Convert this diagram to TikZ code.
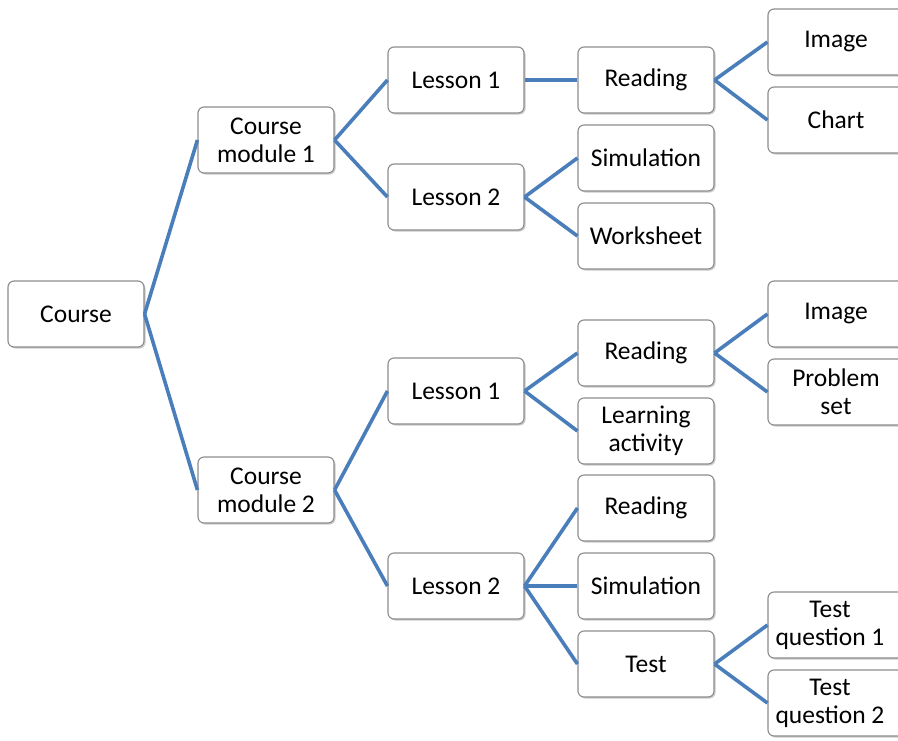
\documentclass[tikz,border=0pt]{standalone}
\usepackage{fontspec}
\setmainfont{Carlito}
\usetikzlibrary{shadows}
\definecolor{conncol}{HTML}{4A7EBB}
\definecolor{boxline}{HTML}{8C8C8C}
\tikzset{
  box/.style={draw=boxline, line width=1.1pt, rounded corners=6pt, fill=white,
    minimum width=136pt, minimum height=66pt, align=center,
    font=\fontsize{25.5}{28}\selectfont, inner sep=2pt,
    drop shadow={shadow xshift=1.5pt, shadow yshift=-1.5pt, opacity=0.35, fill=black!60}},
  conn/.style={draw=conncol, line width=3.6pt}
}
\begin{document}
\begin{tikzpicture}[x=1pt,y=-1pt]
\useasboundingbox (0,0) rectangle (898,740);
\clip (0,0) rectangle (898,740);
% nodes
\node[box] (course) at (76,314) {Course};
\node[box] (cm1) at (266,140) {Course\\module 1};
\node[box] (cm2) at (266,490) {Course\\module 2};
\node[box] (l11) at (456,80) {Lesson 1};
\node[box] (l12) at (456,197) {Lesson 2};
\node[box] (l21) at (456,391) {Lesson 1};
\node[box] (l22) at (456,586) {Lesson 2};
\node[box] (r11) at (646,80) {Reading};
\node[box] (s12) at (646,158) {Simulation};
\node[box] (w12) at (646,236) {Worksheet};
\node[box] (r21) at (646,353) {Reading};
\node[box] (la21) at (646,431) {Learning\\activity};
\node[box] (r22) at (646,508) {Reading};
\node[box] (s22) at (646,586) {Simulation};
\node[box] (t22) at (646,664) {Test};
\node[box] (img1) at (836,42) {Image};
\node[box] (chart1) at (836,120) {Chart};
\node[box] (img2) at (836,314) {Image};
\node[box] (ps2) at (836,392) {Problem\\set};
\node[box] (tq1) at (836,625) {Test\hspace*{12pt}\\question 1\hspace*{12pt}};
\node[box] (tq2) at (836,703) {Test\hspace*{12pt}\\question 2\hspace*{12pt}};
% connectors
\draw[conn] (course.east) -- (cm1.west);
\draw[conn] (course.east) -- (cm2.west);
\draw[conn] (cm1.east) -- (l11.west);
\draw[conn] (cm1.east) -- (l12.west);
\draw[conn] (cm2.east) -- (l21.west);
\draw[conn] (cm2.east) -- (l22.west);
\draw[conn] (l11.east) -- (r11.west);
\draw[conn] (l12.east) -- (s12.west);
\draw[conn] (l12.east) -- (w12.west);
\draw[conn] (l21.east) -- (r21.west);
\draw[conn] (l21.east) -- (la21.west);
\draw[conn] (l22.east) -- (r22.west);
\draw[conn] (l22.east) -- (s22.west);
\draw[conn] (l22.east) -- (t22.west);
\draw[conn] (r11.east) -- (img1.west);
\draw[conn] (r11.east) -- (chart1.west);
\draw[conn] (r21.east) -- (img2.west);
\draw[conn] (r21.east) -- (ps2.west);
\draw[conn] (t22.east) -- (tq1.west);
\draw[conn] (t22.east) -- (tq2.west);
\end{tikzpicture}
\end{document}
